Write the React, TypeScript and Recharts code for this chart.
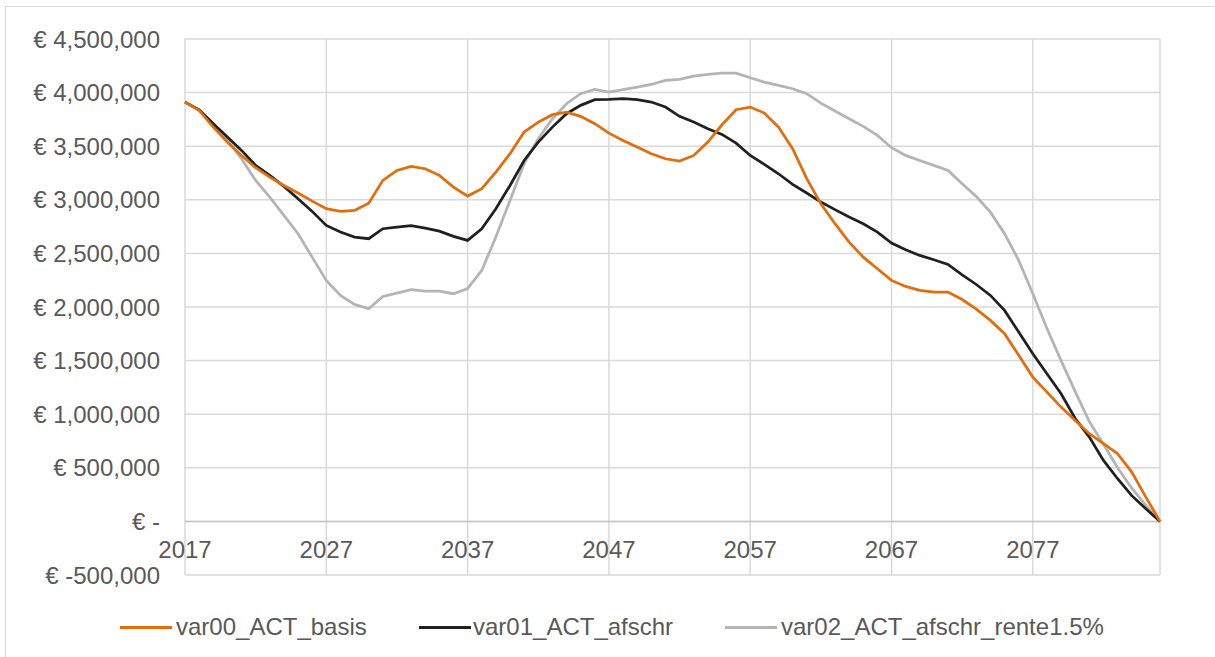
import React from "react";
import { LineChart, Line, XAxis, YAxis, CartesianGrid, ReferenceLine } from "recharts";

const years = [
  2017, 2018, 2019, 2020, 2021, 2022, 2023, 2024, 2025, 2026,
  2027, 2028, 2029, 2030, 2031, 2032, 2033, 2034, 2035, 2036,
  2037, 2038, 2039, 2040, 2041, 2042, 2043, 2044, 2045, 2046,
  2047, 2048, 2049, 2050, 2051, 2052, 2053, 2054, 2055, 2056,
  2057, 2058, 2059, 2060, 2061, 2062, 2063, 2064, 2065, 2066,
  2067, 2068, 2069, 2070, 2071, 2072, 2073, 2074, 2075, 2076,
  2077, 2078, 2079, 2080, 2081, 2082, 2083, 2084, 2085, 2086,
];

const var00 = [
  3911000, 3834000, 3678000, 3538000, 3414000, 3299000, 3212000, 3134000, 3063000, 2988000,
  2917000, 2892000, 2901000, 2969000, 3181000, 3274000, 3312000, 3290000, 3228000, 3118000,
  3035000, 3103000, 3258000, 3430000, 3632000, 3725000, 3794000, 3818000, 3778000, 3710000,
  3622000, 3554000, 3492000, 3430000, 3383000, 3361000, 3414000, 3538000, 3700000, 3840000,
  3865000, 3809000, 3678000, 3476000, 3197000, 2963000, 2777000, 2605000, 2465000, 2357000,
  2248000, 2192000, 2155000, 2139000, 2139000, 2070000, 1980000, 1875000, 1751000, 1549000,
  1346000, 1206000, 1066000, 942000, 818000, 725000, 632000, 460000, 227000, 0,
];

const var01 = [
  3911000, 3840000, 3710000, 3585000, 3461000, 3321000, 3228000, 3125000, 3010000, 2892000,
  2761000, 2699000, 2652000, 2637000, 2730000, 2745000, 2758000, 2736000, 2708000, 2659000,
  2621000, 2730000, 2917000, 3134000, 3367000, 3538000, 3678000, 3803000, 3881000, 3934000,
  3937000, 3943000, 3934000, 3912000, 3865000, 3778000, 3725000, 3663000, 3610000, 3529000,
  3414000, 3330000, 3243000, 3144000, 3063000, 2979000, 2908000, 2839000, 2777000, 2699000,
  2596000, 2534000, 2481000, 2441000, 2397000, 2300000, 2210000, 2108000, 1968000, 1766000,
  1564000, 1378000, 1191000, 960000, 786000, 569000, 398000, 240000, 118000, 0,
];

const var02 = [
  3911000, 3840000, 3710000, 3554000, 3383000, 3181000, 3025000, 2854000, 2684000, 2465000,
  2248000, 2108000, 2024000, 1984000, 2099000, 2130000, 2161000, 2148000, 2148000, 2124000,
  2171000, 2341000, 2652000, 2994000, 3337000, 3570000, 3756000, 3896000, 3990000, 4030000,
  4005000, 4027000, 4051000, 4076000, 4114000, 4123000, 4154000, 4170000, 4182000, 4182000,
  4139000, 4098000, 4067000, 4036000, 3990000, 3902000, 3828000, 3756000, 3685000, 3601000,
  3486000, 3414000, 3367000, 3321000, 3274000, 3150000, 3030000, 2885000, 2684000, 2435000,
  2124000, 1800000, 1500000, 1210000, 930000, 720000, 500000, 310000, 150000, 0,
];

const xTicks = [2017, 2027, 2037, 2047, 2057, 2067, 2077];
const yTicks = [-500000, 0, 500000, 1000000, 1500000, 2000000, 2500000, 3000000, 3500000, 4000000, 4500000];

const seriesNames = ["var00_ACT_basis", "var01_ACT_afschr", "var02_ACT_afschr_rente1.5%"];
const seriesColors = ["#E46C0A", "#202020", "#B4B4B4"];

const data = years.map((y, i) => ({ year: y, var00: var00[i], var01: var01[i], var02: var02[i] }));

const FONT = '"Liberation Sans", Arial, sans-serif';
const TEXT = "#595959";
const FS = 24;

const fmtY = (v: number) => {
  if (v === 0) return "€ -";
  return "€ " + v.toLocaleString("en-US");
};

const XTick = (props: any) => {
  const { x, y, payload } = props;
  return (
    <text x={x} y={y - 17} textAnchor="middle" fill={TEXT} fontSize={FS} fontFamily={FONT}>
      {payload.value}
    </text>
  );
};

const YTick = (props: any) => {
  const { x, y, payload } = props;
  return (
    <text x={x} y={y} dy="0.36em" textAnchor="end" fill={TEXT} fontSize={FS} fontFamily={FONT}>
      {fmtY(payload.value)}
    </text>
  );
};

const legendPos = [
  { line: 120, text: 176 },
  { line: 419, text: 473 },
  { line: 725, text: 781 },
];

export default function App() {
  return (
    <div style={{ position: "absolute", left: 0, top: 0, width: 1215, height: 657, background: "#fff", overflow: "hidden", fontFamily: FONT }}>
      <div style={{ position: "absolute", left: 5, top: 6, width: 1300, height: 800, borderLeft: "1.5px solid #D9D9D9", borderTop: "1.5px solid #D9D9D9" }} />
      <div style={{ position: "absolute", left: 0, top: 0 }}>
        <LineChart width={1215} height={657} data={data} margin={{ top: 39, right: 55, bottom: 52, left: 0 }}>
          <CartesianGrid stroke="#D9D9D9" strokeWidth={1.5} />
          <XAxis
            dataKey="year"
            type="number"
            domain={[2017, 2086]}
            ticks={xTicks}
            interval={0}
            height={30}
            axisLine={false}
            tickLine={false}
            tickSize={0}
            tickMargin={0}
            tick={<XTick />}
          />
          <YAxis
            domain={[-500000, 4500000]}
            ticks={yTicks}
            interval={0}
            width={185}
            axisLine={false}
            tickLine={false}
            tickSize={0}
            tickMargin={25}
            tick={<YTick />}
          />
          <ReferenceLine y={0} stroke="#C4C4C4" strokeWidth={1.5} />
          <Line type="linear" dataKey="var02" stroke={seriesColors[2]} strokeWidth={2.75} dot={false} isAnimationActive={false} />
          <Line type="linear" dataKey="var01" stroke={seriesColors[1]} strokeWidth={2.75} dot={false} isAnimationActive={false} />
          <Line type="linear" dataKey="var00" stroke={seriesColors[0]} strokeWidth={2.75} dot={false} isAnimationActive={false} />
        </LineChart>
      </div>
      {seriesNames.map((name, i) => (
        <React.Fragment key={name}>
          <div style={{ position: "absolute", left: legendPos[i].line, top: 626, width: 52, height: 3, background: seriesColors[i] }} />
          <div style={{ position: "absolute", left: legendPos[i].text, top: 613, fontSize: FS, lineHeight: "28px", color: TEXT, whiteSpace: "nowrap" }}>
            {name}
          </div>
        </React.Fragment>
      ))}
    </div>
  );
}
